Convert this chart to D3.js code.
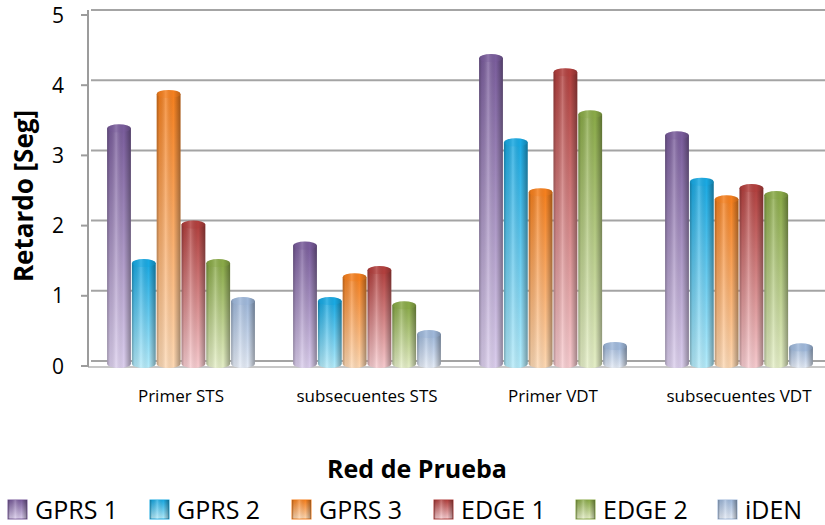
<!DOCTYPE html>
<html>
<head>
<meta charset="utf-8">
<script src="https://cdn.jsdelivr.net/npm/d3@7"></script>
<style>
  body { margin: 0; background: #fff; }
  svg { display: block; font-family: "Open Sans", sans-serif; }
</style>
</head>
<body>
<svg id="chart" width="825" height="525"></svg>
<script>
// data
const categories = ["Primer STS", "subsecuentes STS", "Primer VDT", "subsecuentes VDT"];
const seriesNames = ["GPRS 1", "GPRS 2", "GPRS 3", "EDGE 1", "EDGE 2", "iDEN"];
const gprs1 = [3.4, 1.73, 4.4, 3.3];
const gprs2 = [1.48, 0.94, 3.2, 2.64];
const gprs3 = [3.89, 1.28, 2.49, 2.39];
const edge1 = [2.03, 1.38, 4.2, 2.55];
const edge2 = [1.48, 0.88, 3.6, 2.45];
const iden  = [0.94, 0.47, 0.3, 0.28];
const yTicks = [0, 1, 2, 3, 4, 5];

const seriesValues = [gprs1, gprs2, gprs3, edge1, edge2, iden];
// top (saturated) and bottom (washed out) colour of every cylinder
const topColors    = ["#7a5d9c", "#1aa9e2", "#f5801f", "#b2403e", "#8aaa48", "#9fb8da"];
const bottomColors = ["#dccfee", "#b5ecfb", "#fed9b4", "#f8ccd0", "#e6f0c8", "#e6edf8"];

const svg = d3.select("#chart");
const defs = svg.append("defs");

const m = { left: 88, right: 832, top: 15, bottom: 366 };
const depth = { dx: 3, dy: -5 };   // fake 3D offset of the back wall

const x = d3.scaleBand().domain(categories).range([m.left, m.right])
    .paddingInner(0.2).paddingOuter(0.1);
const xs = d3.scaleBand().domain(seriesNames).range([0, x.bandwidth()]);
const y = d3.scaleLinear().domain([0, 5]).range([m.bottom, m.top]);

// gradients
seriesNames.forEach((s, i) => {
    const g = defs.append("linearGradient").attr("id", "v" + i)
        .attr("x1", 0).attr("y1", 0).attr("x2", 0).attr("y2", 1);
    g.append("stop").attr("offset", "0%").attr("stop-color", topColors[i]);
    g.append("stop").attr("offset", "100%").attr("stop-color", bottomColors[i]);
});
const shade = defs.append("linearGradient").attr("id", "shade")
    .attr("x1", 0).attr("y1", 0).attr("x2", 1).attr("y2", 0);
[[0, "#000", 0.28], [0.12, "#000", 0.08], [0.38, "#fff", 0.22], [0.7, "#000", 0.0], [1, "#000", 0.35]]
    .forEach(([o, c, a]) => shade.append("stop").attr("offset", o)
        .attr("stop-color", c).attr("stop-opacity", a));

// back wall grid
const grid = svg.append("g");
grid.selectAll("line.grid")
    .data(yTicks)
    .join("line")
    .attr("class", "grid")
    .attr("x1", m.left + depth.dx).attr("x2", 825)
    .attr("y1", d => y(d) + depth.dy).attr("y2", d => y(d) + depth.dy)
    .attr("stroke", "#a4a4a4").attr("stroke-width", 2);

// floor front edge
grid.append("line")
    .attr("x1", m.left).attr("x2", 825)
    .attr("y1", y(0) + 1).attr("y2", y(0) + 1)
    .attr("stroke", "#b4b4b4").attr("stroke-width", 1.5);

// y axis
const yAxis = svg.append("g");
yAxis.append("line")
    .attr("x1", m.left).attr("x2", m.left)
    .attr("y1", y(5) + depth.dy).attr("y2", y(0) + 1)
    .attr("stroke", "#9c9c9c").attr("stroke-width", 2);
yAxis.selectAll("line.tick")
    .data(yTicks)
    .join("line")
    .attr("class", "tick")
    .attr("x1", m.left - 7).attr("x2", m.left)
    .attr("y1", d => y(d)).attr("y2", d => y(d))
    .attr("stroke", "#9c9c9c").attr("stroke-width", 2);
yAxis.selectAll("text")
    .data(yTicks)
    .join("text")
    .attr("x", 64).attr("y", d => y(d))
    .attr("dy", "0.36em")
    .attr("text-anchor", "end")
    .attr("font-size", 21)
    .attr("fill", "#000")
    .text(d => d);

// cylinders
const rx = xs.bandwidth() / 2 - 0.5, ry = 4;
const cyl = svg.append("g");
categories.forEach((c, ci) => {
    seriesNames.forEach((s, si) => {
        const v = seriesValues[si][ci];
        const cx = x(c) + xs(s) + xs.bandwidth() / 2;
        const yt = y(v) + 1, yb = y(0) - 2;
        const body = `M${cx - rx},${yt} L${cx - rx},${yb} A${rx},${ry} 0 0 0 ${cx + rx},${yb} L${cx + rx},${yt} Z`;
        const g = cyl.append("g");
        g.append("path").attr("d", body).attr("fill", `url(#v${si})`);
        g.append("path").attr("d", body).attr("fill", "url(#shade)");
        g.append("ellipse")
            .attr("cx", cx).attr("cy", yt).attr("rx", rx).attr("ry", ry)
            .attr("fill", topColors[si]);
        g.append("ellipse")
            .attr("cx", cx).attr("cy", yt).attr("rx", rx).attr("ry", ry)
            .attr("fill", "url(#shade)").attr("opacity", 0.7);
    });
});

// x labels
svg.append("g").selectAll("text")
    .data(categories)
    .join("text")
    .attr("x", d => x(d) + x.bandwidth() / 2)
    .attr("y", 402)
    .attr("text-anchor", "middle")
    .attr("font-size", 17)
    .text(d => d);

// axis titles
svg.append("text")
    .attr("transform", "translate(33,196) rotate(-90)")
    .attr("text-anchor", "middle")
    .attr("font-size", 26).attr("font-weight", "bold")
    .text("Retardo [Seg]");
svg.append("text")
    .attr("x", 417).attr("y", 478)
    .attr("text-anchor", "middle")
    .attr("font-size", 25).attr("font-weight", "bold")
    .text("Red de Prueba");

// legend
const legend = svg.append("g").selectAll("g")
    .data(seriesNames)
    .join("g")
    .attr("transform", (d, i) => `translate(${8 + i * 142},500)`);
legend.append("rect")
    .attr("width", 19).attr("height", 19)
    .attr("fill", (d, i) => `url(#v${i})`)
    .attr("stroke", (d, i) => topColors[i]).attr("stroke-width", 1);
legend.append("rect")
    .attr("width", 19).attr("height", 19)
    .attr("fill", "url(#shade)");
legend.append("text")
    .attr("x", 27).attr("y", 19)
    .attr("font-size", 25)
    .text(d => d);
</script>
</body>
</html>
